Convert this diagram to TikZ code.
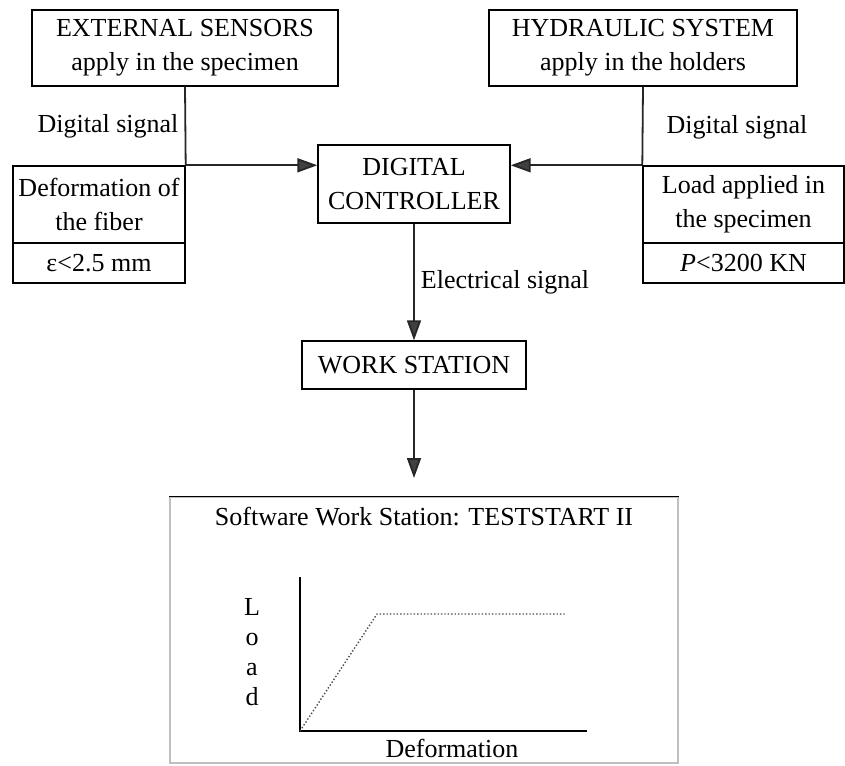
\documentclass[tikz,border=0pt]{standalone}
\usepackage{fontspec}
\setmainfont{Liberation Serif}
\usetikzlibrary{arrows.meta}

\begin{document}
\begin{tikzpicture}[
  x=0.5pt, y=-0.5pt,
  font=\fontsize{13}{17}\selectfont,
  box/.style      = {draw, line width=0.7pt, inner sep=0.5pt, align=center},
  wire/.style     = {line width=0.9pt, black!85},
  arrow/.style    = {line width=0.9pt, black!85, -{Triangle[length=10pt,width=7pt,fill=black!75]}},
  lbl/.style      = {inner sep=3pt, text=black},
  axis/.style     = {line width=0.6pt},
  curve/.style    = {line width=0.7pt, densely dotted, black!70},
]
  \useasboundingbox (0,0) rectangle (845,765);

  \node[box, minimum width=153pt, minimum height=38pt] (sensors) at (185,48)
    {EXTERNAL SENSORS\\apply in the specimen};
  \node[box, minimum width=154pt, minimum height=38pt] (hydr) at (643,48)
    {HYDRAULIC SYSTEM\\apply in the holders};

  \node[box, minimum width=86pt, minimum height=38.5pt] (deform) at (99,204.5)
    {Deformation of\\the fiber};
  \node[box, minimum width=86pt, minimum height=20pt] (strain) at (99,263)
    {ε<2.5 mm};
  \node[box, minimum width=100.5pt, minimum height=38.5pt] (load) at (743.5,204.5)
    {Load applied in\\the specimen};
  \node[box, minimum width=100.5pt, minimum height=20pt] (force) at (743.5,263)
    {\textit{P}<3200 KN};

  \node[box, minimum width=96pt, minimum height=39pt] (ctrl) at (414,184)
    {DIGITAL\\CONTROLLER};
  \node[box, minimum width=112pt, minimum height=24pt] (ws) at (414,365)
    {WORK STATION};
  \node[box, draw=black!25, minimum width=254pt, minimum height=133pt] (soft) at (424,630) {};
  \draw[line width=0.7pt] (soft.north west) -- (soft.north east);
  \node[anchor=north, inner sep=0pt] (title) at ([yshift=-5pt]soft.north)
    {Software Work Station: TESTSTART II};

  % signals into the controller
  \draw[wire] (sensors.south) -- node[lbl, anchor=east] {Digital signal} (deform.north east);
  \draw[arrow] (deform.north east) -- (deform.north east -| ctrl.west);
  \draw[wire] (hydr.south) -- (load.north west);
  \node[lbl] (dsig) at (737,127) {Digital signal};
  \draw[arrow] (load.north west) -- (load.north west -| ctrl.east);

  \draw[arrow] (ctrl.south) -- node[lbl, anchor=west] {Electrical signal} (ws.north);
  \coordinate (drop) at (414,478);
  \draw[arrow] (ws.south) -- (drop);

  % load-deformation plot
  \coordinate (o) at (300,731);
  \coordinate (ytop) at (300,577);
  \coordinate (xend) at (587,731);
  \coordinate (yield) at (377,614);
  \coordinate (last) at (565,614);
  \draw[axis] (ytop) -- (o) -- (xend);
  \draw[curve] (o) -- (yield) -- (last);
  \node[align=center, font=\fontsize{13}{15}\selectfont] (ylab) at (252,652) {L\\o\\a\\d};
  \node (xlab) at (452,748) {Deformation};
\end{tikzpicture}
\end{document}
